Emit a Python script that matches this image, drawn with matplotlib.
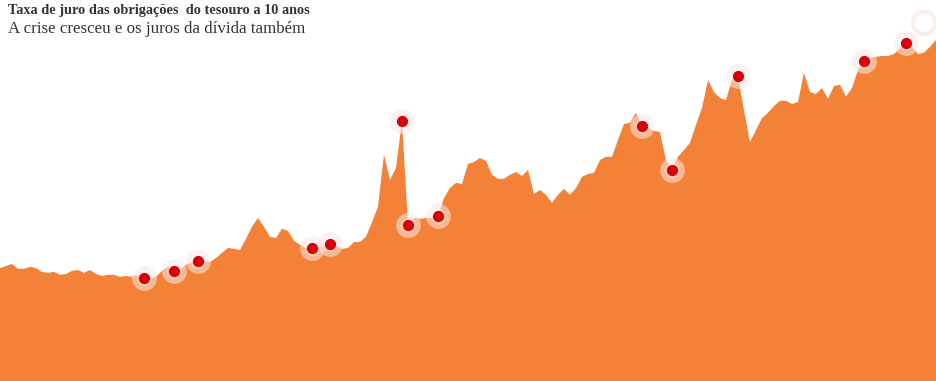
import numpy as np
import matplotlib
matplotlib.use('Agg')
from matplotlib import pyplot as plt

# taxa de juro a 10 anos (%), amostras regulares ao longo do periodo
yields = [3.30, 3.35, 3.40, 3.28, 3.28, 3.33, 3.30, 3.20, 3.18, 3.20,
          3.13, 3.15, 3.23, 3.25, 3.18, 3.25, 3.15, 3.10, 3.13, 3.13,
          3.08, 3.10, 3.08, 3.13, 3.05, 3.03, 3.08, 3.23, 3.33, 3.23,
          3.25, 3.38, 3.45, 3.48, 3.48, 3.45, 3.55, 3.68, 3.80, 3.78,
          3.75, 4.03, 4.33, 4.55, 4.33, 4.08, 4.05, 4.28, 4.23, 3.98,
          3.88, 3.80, 3.80, 3.83, 3.85, 3.90, 3.85, 3.78, 3.80, 3.95,
          3.95, 4.08, 4.45, 4.83, 6.13, 5.50, 5.80, 6.98, 4.38, 4.55,
          4.53, 4.55, 4.55, 4.60, 5.05, 5.30, 5.43, 5.40, 5.90, 5.95,
          6.05, 5.98, 5.63, 5.53, 5.53, 5.63, 5.70, 5.60, 5.75, 5.15,
          5.25, 5.13, 4.93, 5.13, 5.28, 5.13, 5.30, 5.58, 5.65, 5.68,
          6.00, 6.08, 6.08, 6.50, 6.90, 6.93, 7.18, 6.85, 6.80, 6.73,
          6.70, 6.00, 5.75, 6.08, 6.25, 6.43, 6.88, 7.30, 8.00, 7.70,
          7.55, 7.50, 8.00, 8.10, 7.25, 6.45, 6.75, 7.05, 7.18, 7.35,
          7.48, 7.48, 7.40, 7.45, 8.18, 7.70, 7.65, 7.80, 7.53, 7.85,
          7.88, 7.58, 7.80, 8.25, 8.48, 8.55, 8.58, 8.60, 8.60, 8.65,
          8.80, 8.93, 8.83, 8.65, 8.68, 8.83, 9.00]

# pontos destacados (indices na serie)
highlights = [24, 29, 33, 52, 55, 67, 68, 73, 107, 112, 123, 144, 151]
# ultimo marcador (so o anel)
ring_idx = 154
ring_value = 9.43

title = 'Taxa de juro das obrigações  do tesouro a 10 anos'
subtitle = 'A crise cresceu e os juros da dívida também'

ORANGE = '#f38137'
RED = '#d7000b'
HALO = '#fbe6e2'

x = np.arange(len(yields))
y = np.array(yields)

fig = plt.figure(figsize=(9.36, 3.81), dpi=100)
ax = fig.add_axes([0, 0, 1, 1])
ax.fill_between(x, y, 0, color=ORANGE, linewidth=0)

hx = x[highlights]
hy = y[highlights]
# halo suave
ax.scatter(hx, hy, s=320, color=HALO, alpha=0.55, linewidths=0, zorder=3)
ax.scatter(hx, hy, s=130, color='white', alpha=0.25, linewidths=0, zorder=3)
ax.scatter(hx, hy, s=65, color=RED, linewidths=0, zorder=4)

ax.scatter([x[ring_idx]], [ring_value], s=260, facecolors='none', edgecolors=HALO,
           linewidths=3, alpha=0.7, zorder=3)

ax.set_xlim(0, len(yields) - 1)
ax.set_ylim(0.475, 10)
ax.axis('off')

fig.text(8 / 936, 1 - 4 / 381, title, ha='left', va='top', fontsize=10.3,
         fontweight='bold', family='Liberation Serif', color='#333333')
fig.text(8 / 936, 1 - 21 / 381, subtitle, ha='left', va='top', fontsize=12.2,
         family='Liberation Serif', color='#333333')

fig.savefig('out.png', dpi=100)
